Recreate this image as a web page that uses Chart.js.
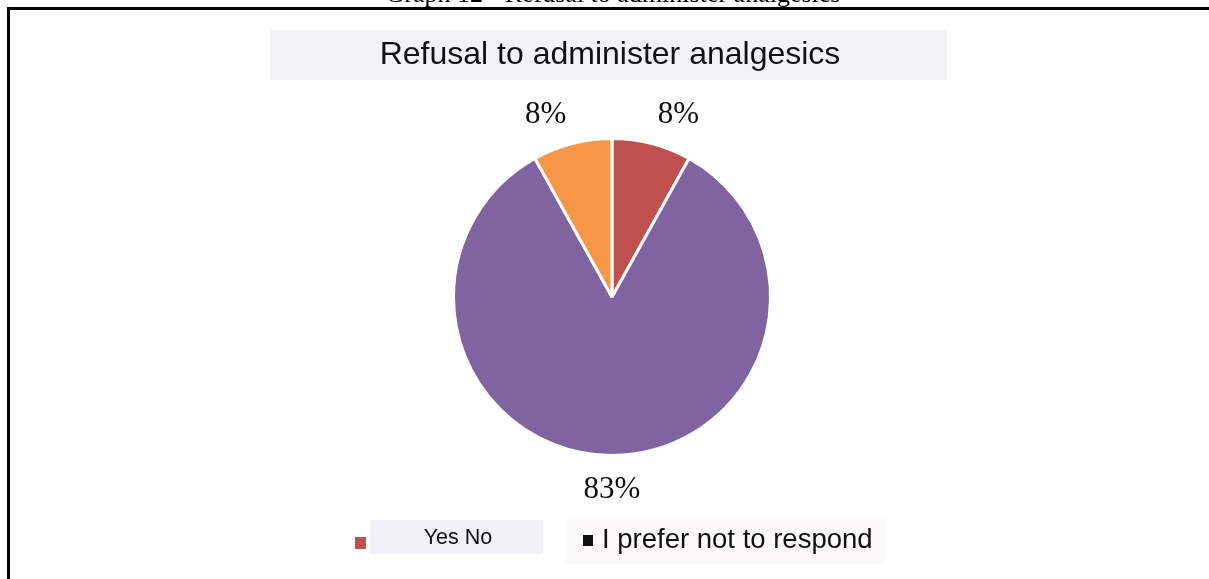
<!DOCTYPE html>
<html>
<head>
<meta charset="utf-8">
<script src="https://cdn.jsdelivr.net/npm/chart.js@4"></script>
<style>
html,body{margin:0;padding:0;background:#fff;}
#wrap{width:1209px;height:579px;position:relative;}
</style>
</head>
<body>
<div id="wrap"><canvas id="c" width="1209" height="579"></canvas></div>
<script>
const categories = ["Yes", "No", "I prefer not to respond"];
const values = [8, 83, 8];
const valueLabels = ["8%", "83%", "8%"];
const colors = ["#c0504d", "#8064a2", "#f79646"];
const chartTitle = "Refusal to administer analgesics";
const captionTitle = "Graph 12 - Refusal to administer analgesics";
const legendItems = ["Yes No", "I prefer not to respond"];
const legendColors = ["#c0504d", "#111111"];

const decor = {
  id: 'decor',
  beforeDraw(chart) {
    const ctx = chart.ctx;
    ctx.save();
    ctx.fillStyle = '#fff';
    ctx.fillRect(0, 0, chart.width, chart.height);
    // caption (cut off at top)
    ctx.fillStyle = '#000';
    ctx.font = '26px "Liberation Serif", "Times New Roman", serif';
    ctx.textAlign = 'center';
    ctx.textBaseline = 'alphabetic';
    ctx.fillText(captionTitle, 613, 2);
    // frame
    ctx.fillStyle = '#000';
    ctx.fillRect(7, 7, chart.width - 7, 3);
    ctx.fillRect(7, 7, 3, chart.height - 7);
    // title box
    ctx.fillStyle = '#f3f2f7';
    ctx.fillRect(270, 30, 677, 50);
    ctx.fillStyle = '#111';
    ctx.font = '32px "Liberation Sans", Arial, sans-serif';
    ctx.textBaseline = 'middle';
    ctx.fillText(chartTitle, 610, 55);
    // legend
    ctx.fillStyle = '#f2f1f7';
    ctx.fillRect(370, 520, 173, 34);
    ctx.fillStyle = '#fbf9f9';
    ctx.fillRect(565, 519, 320, 45);
    ctx.fillStyle = legendColors[0];
    ctx.fillRect(355, 537, 11, 12);
    ctx.fillStyle = legendColors[1];
    ctx.fillRect(583, 535, 10, 11);
    ctx.fillStyle = '#111';
    ctx.font = '21.5px "Liberation Sans", Arial, sans-serif';
    ctx.textAlign = 'center';
    ctx.fillText(legendItems[0], 458, 538);
    ctx.font = '27.5px "Liberation Sans", Arial, sans-serif';
    ctx.textAlign = 'left';
    ctx.fillText(legendItems[1], 602, 540);
    ctx.restore();
  },
  afterDatasetsDraw(chart) {
    const ctx = chart.ctx;
    const meta = chart.getDatasetMeta(0);
    ctx.save();
    ctx.fillStyle = '#111';
    ctx.font = '31px "Liberation Serif", "Times New Roman", serif';
    ctx.textAlign = 'center';
    ctx.textBaseline = 'middle';
    meta.data.forEach((arc, i) => {
      const p = arc.getProps(['x', 'y', 'startAngle', 'endAngle', 'outerRadius'], true);
      const mid = (p.startAngle + p.endAngle) / 2;
      const r = p.outerRadius + 34;
      let x = p.x + Math.cos(mid) * r;
      let y = p.y + Math.sin(mid) * r;
      const s = Math.cos(mid);
      if (Math.abs(s) > 0.1) x += Math.sign(s) * 18;
      if (Math.sin(mid) < 0) y += 4;
      ctx.fillText(valueLabels[i], x, y);
    });
    ctx.restore();
  }
};

new Chart(document.getElementById('c'), {
  type: 'pie',
  data: {
    labels: categories,
    datasets: [{
      data: values,
      backgroundColor: colors,
      borderColor: '#ffffff',
      borderWidth: 3
    }]
  },
  options: {
    responsive: false,
    animation: false,
    layout: { padding: { top: 137, bottom: 122, left: 15, right: 0 } },
    plugins: {
      legend: { display: false },
      title: { display: false },
      tooltip: { enabled: false }
    }
  },
  plugins: [decor]
});
</script>
</body>
</html>
